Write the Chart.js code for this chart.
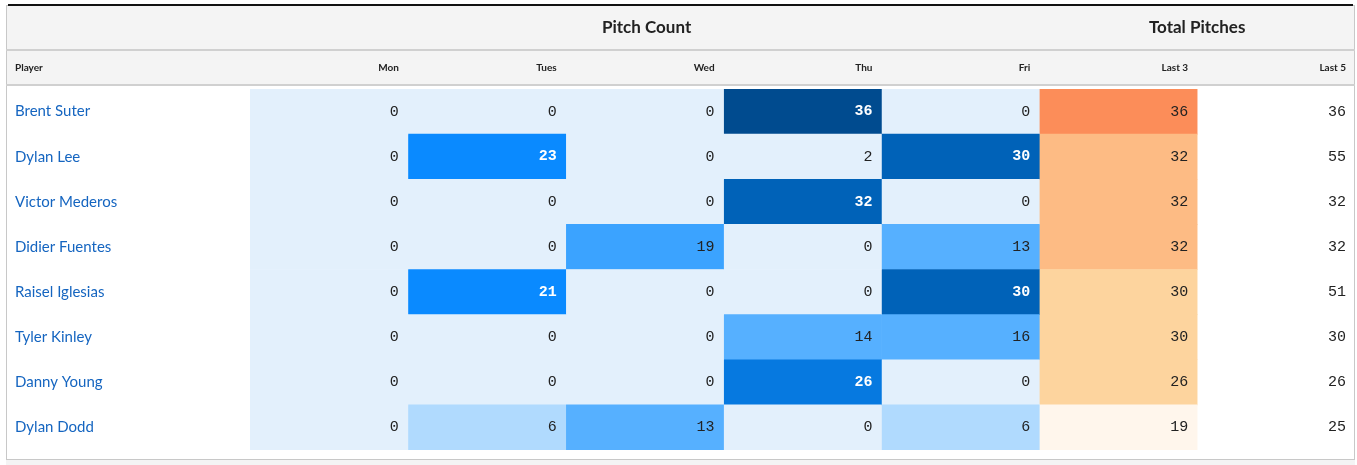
<!DOCTYPE html>
<html>
<head>
<meta charset="utf-8">
<script src="https://cdn.jsdelivr.net/npm/chart.js@4"></script>
<style>
  body { margin: 0; background: #fff; }
  #wrap { position: relative; width: 1357px; height: 465px; }
</style>
</head>
<body>
<div id="wrap"><canvas id="grid" width="1357" height="465"></canvas></div>
<script>
const players = ['Brent Suter', 'Dylan Lee', 'Victor Mederos', 'Didier Fuentes', 'Raisel Iglesias', 'Tyler Kinley', 'Danny Young', 'Dylan Dodd'];
const columns = ['Mon', 'Tues', 'Wed', 'Thu', 'Fri', 'Last 3', 'Last 5'];
const mon = [0, 0, 0, 0, 0, 0, 0, 0];
const tues = [0, 23, 0, 0, 21, 0, 0, 6];
const wed = [0, 0, 0, 19, 0, 0, 0, 13];
const thu = [36, 2, 32, 0, 0, 14, 26, 0];
const fri = [0, 30, 0, 13, 30, 16, 0, 6];
const last3 = [36, 32, 32, 32, 30, 30, 26, 19];
const last5 = [36, 55, 32, 32, 51, 30, 26, 25];
const colValues = [mon, tues, wed, thu, fri, last3, last5];

// blue scale for daily counts
function blueFor(v) {
    if (v <= 2) return '#e3f0fc';
    if (v <= 8) return '#b0dafe';
    if (v <= 17) return '#56b0ff';
    if (v <= 20) return '#3ba3ff';
    if (v <= 24) return '#0a8aff';
    if (v <= 28) return '#0679e0';
    if (v <= 33) return '#0062b8';
    return '#004b8f';
}
// orange scale for last 3
function orangeFor(v) {
    if (v <= 20) return '#fff6ec';
    if (v <= 31) return '#fdd49e';
    if (v <= 34) return '#fdbb84';
    return '#fc8d59';
}
function cellColor(col, v) {
    if (col < 5) return blueFor(v);
    if (col === 5) return orangeFor(v);
    return 'rgba(0,0,0,0)';
}

const datasets = colValues.map((vals, c) => ({
    label: columns[c],
    data: vals.map(() => [c, c + 1]),
    backgroundColor: vals.map(v => cellColor(c, v)),
    borderWidth: 0,
    barPercentage: 1,
    categoryPercentage: 1,
    grouped: false
}));

const tablePlugin = {
    id: 'tableText',
    beforeDraw(chart) {
        const ctx = chart.ctx;
        const x = chart.scales.x;
        ctx.save();
        // card
        ctx.fillStyle = '#fff';
        ctx.fillRect(6, 5, 1349, 455);
        ctx.fillStyle = '#f4f4f4';
        ctx.fillRect(6, 5, 1349, 81);
        ctx.fillRect(6, 460, 1349, 5);
        ctx.strokeStyle = '#c8c8c8';
        ctx.lineWidth = 1;
        ctx.strokeRect(6.5, 5.5, 1348, 454);
        ctx.fillStyle = '#d0d0d0';
        ctx.fillRect(6, 49, 1349, 2);
        ctx.fillRect(6, 84, 1349, 2);
        ctx.fillStyle = '#111';
        ctx.fillRect(8, 4, 1345, 2);
        // group headers
        ctx.fillStyle = '#222';
        ctx.font = 'bold 17px Lato, "Open Sans", sans-serif';
        ctx.textAlign = 'center';
        ctx.textBaseline = 'middle';
        ctx.fillText('Pitch Count', (x.getPixelForValue(0) + x.getPixelForValue(5)) / 2 + 2, 28);
        ctx.fillText('Total Pitches', (x.getPixelForValue(5) + x.getPixelForValue(7)) / 2, 28);
        // column headers
        ctx.font = 'bold 10px Lato, "Open Sans", sans-serif';
        ctx.textAlign = 'left';
        ctx.fillText('Player', 15, 68);
        ctx.textAlign = 'right';
        columns.forEach((c, i) => ctx.fillText(c, x.getPixelForValue(i + 1) - 9, 68));
        ctx.restore();
    },
    afterDatasetsDraw(chart) {
        const ctx = chart.ctx;
        const x = chart.scales.x;
        const y = chart.scales.y;
        ctx.save();
        ctx.textBaseline = 'middle';
        players.forEach((p, r) => {
            const cy = y.getPixelForValue(r);
            ctx.font = '15px Lato, "Open Sans", sans-serif';
            ctx.textAlign = 'left';
            ctx.fillStyle = '#1565c0';
            ctx.fillText(p, 15, cy);
            ctx.textAlign = 'right';
            colValues.forEach((vals, c) => {
                const v = vals[r];
                const light = c < 5 && v >= 21;
                ctx.fillStyle = light ? '#fff' : '#222';
                ctx.font = (light ? 'bold ' : '') + '15px "Liberation Mono", monospace';
                ctx.fillText(String(v), x.getPixelForValue(c + 1) - 9, cy);
            });
        });
        ctx.restore();
    }
};

new Chart(document.getElementById('grid'), {
    type: 'bar',
    data: { labels: players, datasets: datasets },
    options: {
        indexAxis: 'y',
        responsive: false,
        animation: false,
        devicePixelRatio: 1,
        layout: { padding: { left: 250, top: 89, right: 2, bottom: 15 } },
        scales: {
            x: { type: 'linear', min: 0, max: 7, display: false },
            y: { type: 'category', display: false, offset: true }
        },
        plugins: { legend: { display: false }, tooltip: { enabled: false } }
    },
    plugins: [tablePlugin]
});
</script>
</body>
</html>
